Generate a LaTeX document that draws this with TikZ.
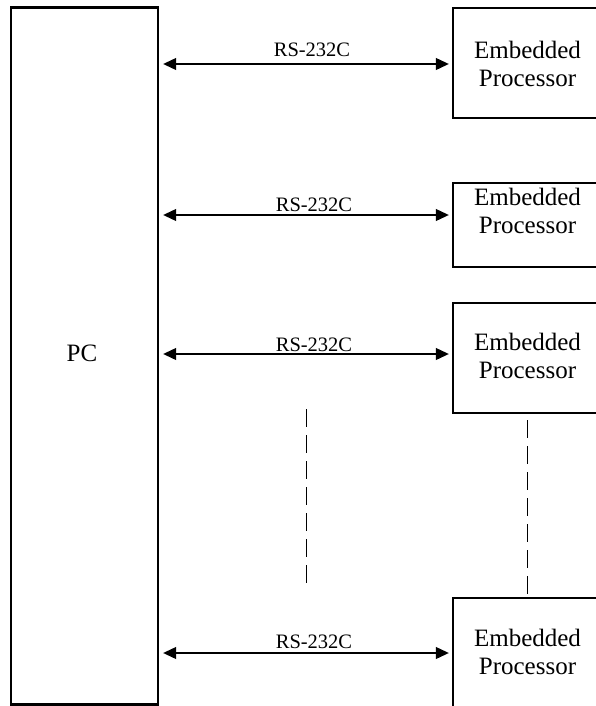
\documentclass[tikz,border=0pt]{standalone}
\usepackage{fontspec}
\setmainfont{Liberation Serif}
\usetikzlibrary{arrows.meta}
\begin{document}
\begin{tikzpicture}[x=1pt,y=-1pt,
  boxline/.style={draw=black,line width=2.4pt},
  pcbox/.style={boxline,rectangle,minimum width=147pt,minimum height=697pt,inner sep=0pt,font=\fontsize{25}{28}\selectfont},
  epbox/.style={boxline,rectangle,minimum width=150pt,inner sep=0pt},
  eptext/.style={align=center,inner sep=0pt,font=\fontsize{25}{28}\selectfont},
  link/.style={line width=1.1pt,{Triangle[length=13pt,width=12pt]}-{Triangle[length=13pt,width=12pt]},shorten <=4pt,shorten >=3pt},
  rslabel/.style={anchor=base,inner sep=0pt,font=\fontsize{20.5}{24}\selectfont},
  dots/.style={line width=1pt,dash pattern=on 18pt off 8pt}]
\useasboundingbox (0,0) rectangle (595,706);
% PC
\node[pcbox] (pc) at (84.5,356) {};
\node[eptext] (pct) at (82,353) {PC};
% embedded processor boxes
\node[epbox,minimum height=110pt] (e1) at (528,63) {};
\node[epbox,minimum height=84pt] (e2) at (528,225) {};
\node[epbox,minimum height=110pt] (e3) at (528,358) {};
\node[epbox,minimum height=112pt] (e4) at (528,654) {};
\node[eptext] (t1) at (527.5,64) {Embedded\\Processor};
\node[eptext] (t2) at (527.5,210.5) {Embedded\\Processor};
\node[eptext] (t3) at (527.5,355.5) {Embedded\\Processor};
\node[eptext] (t4) at (527.5,651.5) {Embedded\\Processor};
% arrow levels
\coordinate (y1) at (300,64);
\coordinate (y2) at (300,215);
\coordinate (y3) at (300,354);
\coordinate (y4) at (300,653);
\draw[link] (pc.east |- y1) -- (e1.west |- y1);
\draw[link] (pc.east |- y2) -- (e2.west |- y2);
\draw[link] (pc.east |- y3) -- (e3.west |- y3);
\draw[link] (pc.east |- y4) -- (e4.west |- y4);
\node[rslabel] (l1) at (312,57) {RS-232C};
\node[rslabel] (l2) at (314,211) {RS-232C};
\node[rslabel] (l3) at (314,351) {RS-232C};
\node[rslabel] (l4) at (314,648) {RS-232C};
% dashed continuation lines
\coordinate (d1a) at (306,409);
\coordinate (d1b) at (306,590);
\coordinate (d2a) at (527,420);
\coordinate (d2b) at (527,595);
\draw[dots] (d1a) -- (d1b);
\draw[dots] (d2a) -- (d2b);
\end{tikzpicture}
\end{document}
